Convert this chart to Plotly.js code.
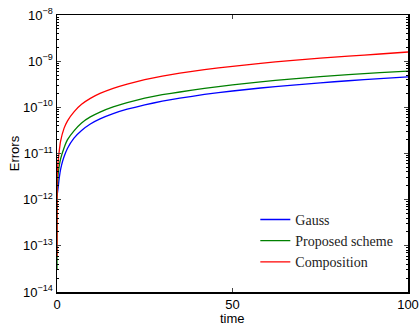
<!DOCTYPE html>
<html>
<head>
<meta charset="utf-8">
<script src="https://cdn.plot.ly/plotly-3.0.1.min.js"></script>
<style>html,body{margin:0;padding:0;background:#fff;}#chart{width:419px;height:325px;}</style>
</head>
<body>
<div id="chart"></div>
<script>
const seriesNames = ["Gauss", "Proposed scheme", "Composition"];
const seriesColors = ["#0000ff", "#008000", "#ff0000"];
const xTitle = "time";
const yTitle = "Errors";

const tGauss = [0, 0.1, 0.28, 0.57, 0.85, 1.3, 2.0, 3.0, 4.84, 7, 9.5, 12.25, 16, 20, 25, 30, 35, 42, 50, 58, 66.4, 75, 83, 92, 100];
const errGauss = [1.2e-12, 1.35e-12, 1.7e-12, 2.7e-12, 3.8e-12, 5.6e-12, 8.5e-12, 1.3e-11, 2.15e-11, 3.15e-11, 4.35e-11, 5.6e-11, 7.3e-11, 9.1e-11, 1.13e-10, 1.36e-10, 1.58e-10, 1.9e-10, 2.26e-10, 2.62e-10, 3.0e-10, 3.4e-10, 3.77e-10, 4.18e-10, 4.55e-10];

const tProposed = [0, 0.02, 0.085, 0.3, 0.57, 1.0, 2.0, 3.0, 4.84, 7, 9.5, 12.25, 16, 20, 25, 30, 35, 42, 50, 58, 66.4, 75, 83, 92, 100];
const errProposed = [3e-14, 1.0e-12, 1.6e-12, 3.4e-12, 5.0e-12, 7.5e-12, 1.32e-11, 2.0e-11, 3.1e-11, 4.6e-11, 6.2e-11, 7.9e-11, 1.02e-10, 1.27e-10, 1.58e-10, 1.88e-10, 2.15e-10, 2.58e-10, 3.07e-10, 3.56e-10, 4.1e-10, 4.63e-10, 5.1e-10, 5.65e-10, 6.1e-10];

const tComp = [0, 0.02, 0.085, 0.3, 0.57, 1.0, 2.0, 3.0, 4.84, 7, 9.5, 12.25, 16, 20, 25, 30, 35, 42, 50, 58, 66.4, 75, 83, 92, 100];
const errComp = [6e-14, 3e-12, 3.8e-12, 6.5e-12, 1.02e-11, 1.8e-11, 3.5e-11, 5.1e-11, 8.0e-11, 1.16e-10, 1.56e-10, 2.0e-10, 2.58e-10, 3.2e-10, 3.97e-10, 4.73e-10, 5.5e-10, 6.55e-10, 7.75e-10, 8.95e-10, 1.03e-9, 1.16e-9, 1.29e-9, 1.43e-9, 1.58e-9];

const yTickVals = [1e-14, 1e-13, 1e-12, 1e-11, 1e-10, 1e-9, 1e-8];
const yTickText = ["10<sup>\u221214</sup>", "10<sup>\u221213</sup>", "10<sup>\u221212</sup>", "10<sup>\u221211</sup>", "10<sup>\u221210</sup>", "10<sup>\u22129</sup>", "10<sup>\u22128</sup>"];
const xTickVals = [0, 50, 100];

const minorVals = [];
for (let e = -14; e < -8; e++) { for (let m = 2; m <= 9; m++) minorVals.push(m * Math.pow(10, e)); }

const xs = [tGauss, tProposed, tComp];
const ys = [errGauss, errProposed, errComp];
const traces = seriesNames.map((n, i) => ({
  x: xs[i], y: ys[i], name: n, type: 'scatter', mode: 'lines',
  line: {color: seriesColors[i], width: 1.3, shape: 'spline', smoothing: 0.3}
}));

const layout = {
  width: 419, height: 325,
  margin: {l: 57, r: 11, t: 15, b: 33},
  paper_bgcolor: '#fff', plot_bgcolor: '#fff',
  font: {family: 'Liberation Sans, Arial, sans-serif', size: 13, color: '#000'},
  showlegend: true,
  legend: {x: 0.565, y: 0.318, xanchor: 'left', yanchor: 'top', bgcolor: 'rgba(0,0,0,0)',
    font: {family: 'Liberation Serif, serif', size: 14, color: '#222'}, tracegroupgap: 0},
  xaxis: {
    range: [0, 100], tickvals: xTickVals, ticks: 'inside', ticklen: 4, tickwidth: 1,
    showline: true, linecolor: '#000', linewidth: 1.5, mirror: 'ticks', showgrid: false, zeroline: false,
    tickfont: {size: 13}
  },
  yaxis: {
    type: 'log', range: [-14, -8], tickvals: yTickVals, ticktext: yTickText,
    ticks: 'inside', ticklen: 4, tickwidth: 1,
    showline: true, linecolor: '#000', linewidth: 1.5, mirror: 'ticks', showgrid: false, zeroline: false,
    tickfont: {size: 13},
    minor: {tickvals: minorVals, ticks: 'inside', ticklen: 2, tickwidth: 1, tickcolor: '#000', showgrid: false},
    title: {text: yTitle, font: {size: 13}, standoff: 0}
  },
  annotations: [{
    text: xTitle, xref: 'paper', yref: 'paper', x: 0.5, y: -0.097,
    xanchor: 'center', yanchor: 'middle', showarrow: false, font: {size: 13}
  }]
};

Plotly.newPlot('chart', traces, layout, {displayModeBar: false, staticPlot: true});
</script>
</body>
</html>
